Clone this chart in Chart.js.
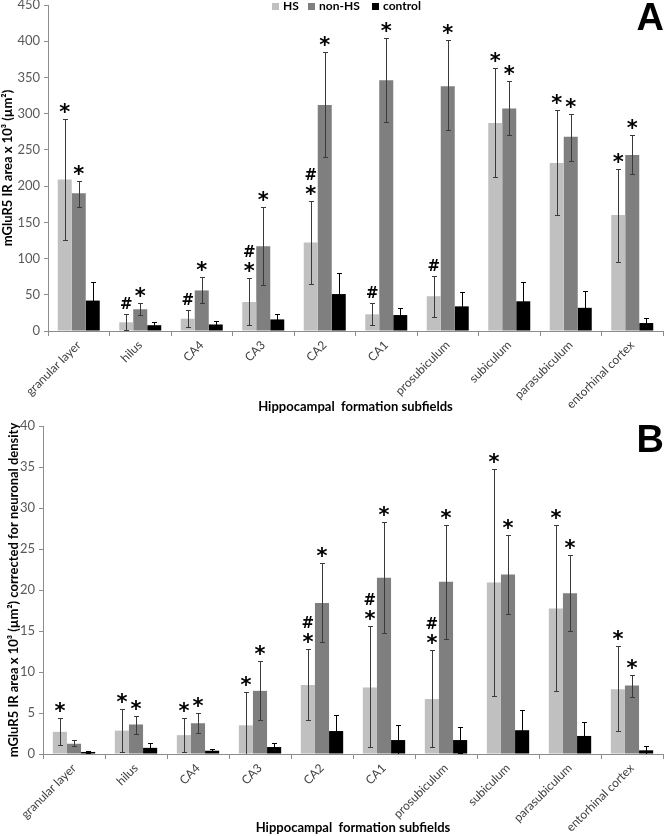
<!DOCTYPE html>
<html lang="en">
<head>
    <meta charset="UTF-8">
    <title>mGluR5 IR area in hippocampal subfields</title>
    <script src="https://cdn.jsdelivr.net/npm/chart.js"></script>
    <style>
        body {
            margin: 0;
            background-color: #ffffff;
        }
        .panel {
            width: 666px;
            height: 418px;
        }
    </style>
</head>
<body>
    <div class="panel"><canvas id="chart-a" width="666" height="418"></canvas></div>
    <div class="panel"><canvas id="chart-b" width="666" height="418"></canvas></div>

    <script>
        const subfields = ['granular layer', 'hilus', 'CA4', 'CA3', 'CA2', 'CA1', 'prosubiculum', 'subiculum', 'parasubiculum', 'entorhinal cortex'];
        const seriesNames = ['HS', 'non-HS', 'control'];

        // panel A: mGluR5 IR area x 10^3 (um^2)
        const hsA = [209, 12, 17, 40, 122, 23, 48, 287, 232, 160];
        const nonHsA = [190, 30, 56, 117, 312, 346, 338, 307, 268, 243];
        const controlA = [42, 8, 9, 16, 51, 22, 34, 41, 32, 11];
        // error bar ends [low, high]
        const hsErrA = [[125, 293], [1, 24], [6, 29], [8, 73], [65, 180], [8, 38], [20, 76], [212, 363], [160, 305], [95, 224]];
        const nonHsErrA = [[171, 207], [22, 38], [38, 75], [63, 171], [240, 385], [288, 405], [277, 401], [270, 345], [235, 300], [217, 270]];
        const controlErrA = [[16, 68], [4, 12], [4, 14], [8, 24], [22, 80], [12, 32], [14, 54], [14, 68], [9, 55], [4, 18]];
        // significance marks, listed bottom to top
        const hsMarksA = ['*', '#', '#', '*#', '*#', '#', '#', '*', '*', '*'];
        const nonHsMarksA = ['*', '*', '*', '*', '*', '*', '*', '*', '*', '*'];

        // panel B: corrected for neuronal density
        const hsB = [2.7, 2.85, 2.3, 3.5, 8.4, 8.1, 6.7, 20.9, 17.75, 7.9];
        const nonHsB = [1.25, 3.6, 3.75, 7.7, 18.4, 21.5, 21.0, 21.9, 19.6, 8.35];
        const controlB = [0.25, 0.75, 0.4, 0.85, 2.8, 1.7, 1.7, 2.9, 2.2, 0.45];
        const hsErrB = [[1.1, 4.4], [0.25, 5.5], [0.25, 4.4], [0, 7.6], [4.1, 12.8], [0.85, 15.6], [0.85, 12.7], [7.1, 34.7], [7.7, 27.9], [2.8, 13.2]];
        const nonHsErrB = [[0.95, 1.7], [2.4, 4.65], [2.6, 5.05], [4.1, 11.3], [13.6, 23.3], [14.8, 28.3], [14.0, 27.9], [17.1, 26.7], [15.0, 24.3], [7.0, 9.6]];
        const controlErrB = [[0.1, 0.4], [0.2, 1.3], [0.2, 0.6], [0.35, 1.35], [0.8, 4.8], [0, 3.5], [0.1, 3.3], [0.4, 5.4], [0.5, 3.9], [0, 1.0]];
        const hsMarksB = ['*', '*', '*', '*', '*#', '*#', '*#', '*', '*', '*'];
        const nonHsMarksB = ['', '*', '*', '*', '*', '*', '*', '*', '*', '*'];

        const colors = ['#c0c0c0', '#7f7f7f', '#000000'];
        const axisColor = '#8c8c8c';

        // error bars drawn over the bars
        const errorBars = {
            id: 'errorBars',
            afterDatasetsDraw(chart) {
                const ctx = chart.ctx;
                const y = chart.scales.y;
                const area = chart.chartArea;
                ctx.save();
                ctx.beginPath();
                ctx.rect(area.left, area.top - 10, area.right - area.left, area.bottom - area.top + 10);
                ctx.clip();
                ctx.lineWidth = 1;
                chart.data.datasets.forEach((ds, i) => {
                    const meta = chart.getDatasetMeta(i);
                    ctx.strokeStyle = ds.errColor;
                    meta.data.forEach((bar, j) => {
                        const [lo, hi] = ds.errors[j];
                        const x = Math.round(bar.x) + 0.5;
                        const yHi = Math.round(y.getPixelForValue(hi)) + 0.5;
                        const yLo = Math.round(y.getPixelForValue(lo)) + 0.5;
                        ctx.beginPath();
                        ctx.moveTo(x, yHi);
                        ctx.lineTo(x, yLo);
                        ctx.moveTo(x - 2.5, yHi);
                        ctx.lineTo(x + 2.5, yHi);
                        if (lo > 0) {
                            ctx.moveTo(x - 2.5, yLo);
                            ctx.lineTo(x + 2.5, yLo);
                        }
                        ctx.stroke();
                    });
                });
                ctx.restore();
            }
        };

        // * and # above the error bars
        const sigMarks = {
            id: 'sigMarks',
            afterDatasetsDraw(chart) {
                const ctx = chart.ctx;
                const y = chart.scales.y;
                const fonts = { '*': 'bold 21px "DejaVu Sans"', '#': 'bold 15px "DejaVu Sans"' };
                ctx.save();
                ctx.fillStyle = '#000000';
                ctx.textAlign = 'center';
                ctx.textBaseline = 'alphabetic';
                chart.data.datasets.forEach((ds, i) => {
                    if (!ds.marks) return;
                    const meta = chart.getDatasetMeta(i);
                    meta.data.forEach((bar, j) => {
                        const marks = ds.marks[j];
                        let cy = y.getPixelForValue(ds.errors[j][1]) - 11;
                        for (const m of marks) {
                            ctx.font = fonts[m];
                            const tm = ctx.measureText(m);
                            const base = cy + (tm.actualBoundingBoxAscent - tm.actualBoundingBoxDescent) / 2;
                            ctx.fillText(m, bar.x, base);
                            cy -= 16;
                        }
                    });
                });
                ctx.restore();
            }
        };

        // legend and panel letter
        const extras = {
            id: 'extras',
            afterDraw(chart, args, opts) {
                const ctx = chart.ctx;
                ctx.save();
                if (opts.legend) {
                    const xs = [272, 308, 372];
                    ctx.font = 'bold 12px Lato';
                    ctx.textBaseline = 'middle';
                    ctx.textAlign = 'left';
                    chart.data.datasets.forEach((ds, i) => {
                        ctx.fillStyle = ds.backgroundColor;
                        ctx.fillRect(xs[i], 3, 7, 7);
                        ctx.fillStyle = '#000000';
                        ctx.fillText(ds.label, xs[i] + 11, 6.5);
                    });
                }
                ctx.font = 'bold 38px "Liberation Sans"';
                ctx.fillStyle = '#000000';
                ctx.textAlign = 'right';
                ctx.textBaseline = 'alphabetic';
                ctx.fillText(opts.letter, 664, opts.letterY);
                ctx.restore();
            }
        };

        function makeChart(id, values, errors, marks, cfg) {
            return new Chart(document.getElementById(id).getContext('2d'), {
                type: 'bar',
                data: {
                    labels: subfields,
                    datasets: seriesNames.map((name, i) => ({
                        label: name,
                        data: values[i],
                        errors: errors[i],
                        marks: marks[i],
                        errColor: i === 2 ? '#000000' : '#3a3a3a',
                        backgroundColor: colors[i],
                        borderWidth: 0,
                        categoryPercentage: 0.683,
                        barPercentage: 1.0
                    }))
                },
                plugins: [errorBars, sigMarks, extras],
                options: {
                    responsive: false,
                    animation: false,
                    layout: { padding: { top: cfg.top, right: 3, left: 0, bottom: 0 } },
                    plugins: {
                        legend: { display: false },
                        tooltip: { enabled: false },
                        extras: { legend: cfg.legend, letter: cfg.letter, letterY: cfg.letterY }
                    },
                    scales: {
                        x: {
                            grid: { offset: true, drawOnChartArea: false, tickLength: 5, color: axisColor },
                            border: { color: axisColor },
                            ticks: { autoSkip: false, minRotation: 45, maxRotation: 45, padding: 2, color: '#404040', font: { family: 'Lato', size: 12 } },
                            title: { display: true, text: 'Hippocampal  formation subfields', color: '#000000', font: { family: 'Lato', size: 13, weight: 'bold' }, padding: { top: 0, bottom: cfg.xTitlePad } },
                            afterFit(scale) {
                                scale.height = cfg.xHeight;
                                scale.paddingLeft = 0;
                                scale.paddingRight = 0;
                            }
                        },
                        y: {
                            min: 0,
                            max: cfg.yMax,
                            ticks: { stepSize: cfg.yStep, padding: 4, color: '#595959', font: { family: 'Lato', size: 13 } },
                            grid: { drawOnChartArea: false, tickLength: 4, color: axisColor },
                            border: { color: axisColor },
                            title: { display: true, text: cfg.yTitle, color: '#000000', font: { family: 'Lato', size: 13, weight: 'bold' }, padding: { top: cfg.yTitlePad, bottom: 0 } },
                            afterFit(scale) {
                                scale.width = cfg.yWidth;
                                scale.paddingTop = 0;
                                scale.paddingBottom = 0;
                            }
                        }
                    }
                }
            });
        }

        makeChart('chart-a', [hsA, nonHsA, controlA], [hsErrA, nonHsErrA, controlErrA], [hsMarksA, nonHsMarksA, null], {
            top: 5, yMax: 450, yStep: 50, yWidth: 48, xHeight: 87, xTitlePad: 3, yTitlePad: 0,
            yTitle: 'mGluR5 IR area x 10³ (µm²)', legend: true, letter: 'A', letterY: 30
        });

        makeChart('chart-b', [hsB, nonHsB, controlB], [hsErrB, nonHsErrB, controlErrB], [hsMarksB, nonHsMarksB, null], {
            top: 8, yMax: 40, yStep: 5, yWidth: 43, xHeight: 82, xTitlePad: 0, yTitlePad: 6,
            yTitle: 'mGluR5 IR area x 10³ (µm²) corrected for neuronal density', legend: false, letter: 'B', letterY: 34
        });
    </script>
</body>
</html>
